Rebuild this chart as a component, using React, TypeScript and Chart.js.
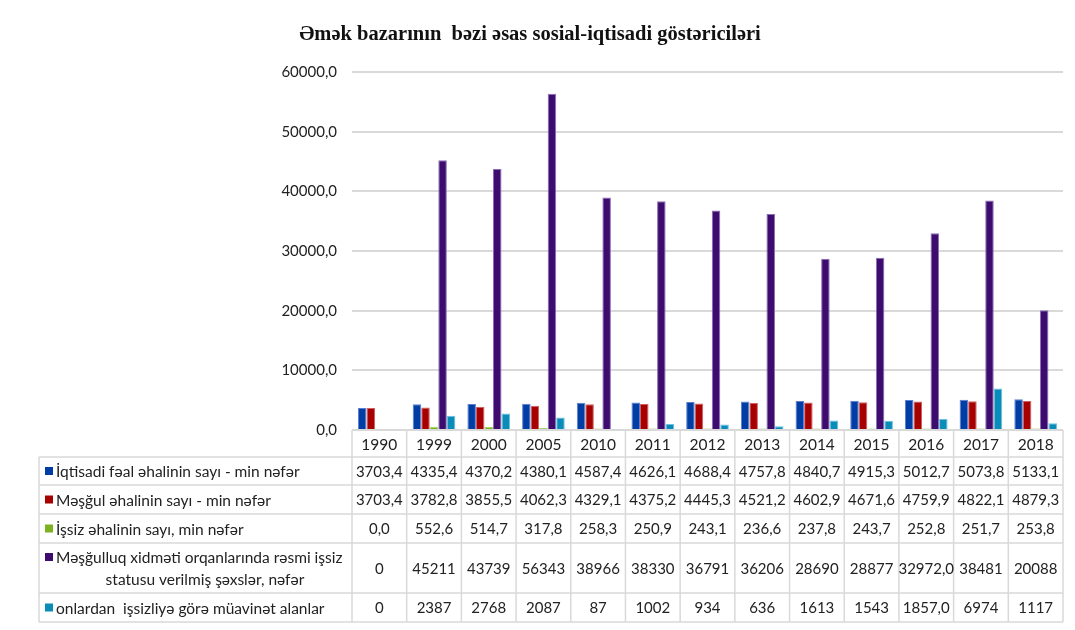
import React, { useEffect, useRef } from "react";
import { Chart, registerables } from "chart.js";

Chart.register(...registerables);

const TITLE = "Əmək bazarının  bəzi əsas sosial-iqtisadi göstəriciləri";

const years = ["1990", "1999", "2000", "2005", "2010", "2011", "2012", "2013", "2014", "2015", "2016", "2017", "2018"];

const seriesNames: string[][] = [
  ["İqtisadi fəal əhalinin sayı - min nəfər"],
  ["Məşğul əhalinin sayı - min nəfər"],
  ["İşsiz əhalinin sayı, min nəfər"],
  ["Məşğulluq xidməti orqanlarında rəsmi işsiz", "statusu verilmiş şəxslər, nəfər"],
  ["onlardan  işsizliyə görə müavinət alanlar"],
];

const activePopulation = ["3703,4", "4335,4", "4370,2", "4380,1", "4587,4", "4626,1", "4688,4", "4757,8", "4840,7", "4915,3", "5012,7", "5073,8", "5133,1"];
const employedPopulation = ["3703,4", "3782,8", "3855,5", "4062,3", "4329,1", "4375,2", "4445,3", "4521,2", "4602,9", "4671,6", "4759,9", "4822,1", "4879,3"];
const unemployedPopulation = ["0,0", "552,6", "514,7", "317,8", "258,3", "250,9", "243,1", "236,6", "237,8", "243,7", "252,8", "251,7", "253,8"];
const officialUnemployed = ["0", "45211", "43739", "56343", "38966", "38330", "36791", "36206", "28690", "28877", "32972,0", "38481", "20088"];
const benefitReceivers = ["0", "2387", "2768", "2087", "87", "1002", "934", "636", "1613", "1543", "1857,0", "6974", "1117"];

const seriesTexts = [activePopulation, employedPopulation, unemployedPopulation, officialUnemployed, benefitReceivers];

const colors = ["#003DA5", "#A60000", "#7DB21F", "#3D0C6E", "#0A8CB8"];
const borderColors = ["#5a7fd0", "#d06060", "#a9d36a", "#8a6fb8", "#6cc0e0"];

const yTicksMax = 60000;
const yTicksStep = 10000;

const toNum = (s: string) => parseFloat(s.replace(",", "."));

const FONT = "Lato, 'Noto Sans', sans-serif";
const TEXT = "#222222";
const LINE = "#d9d9d9";

const tablePlugin = {
  id: "dataTable",
  afterDraw(chart: any) {
    const ctx: CanvasRenderingContext2D = chart.ctx;
    const area = chart.chartArea;
    const n = years.length;
    const colW = (area.right - area.left) / n;
    const top = area.bottom;
    const rowH = [27, 28, 29, 29, 50, 29];
    const rowY: number[] = [top];
    rowH.forEach((h) => rowY.push(rowY[rowY.length - 1] + h));
    const legendLeft = 39;

    ctx.save();
    // title
    ctx.fillStyle = "#111";
    ctx.font = "bold 20.5px 'Liberation Serif', 'Times New Roman', serif";
    ctx.textAlign = "center";
    ctx.textBaseline = "middle";
    ctx.fillText(TITLE, 530, 35);

    // grid lines
    ctx.strokeStyle = LINE;
    ctx.lineWidth = 1.5;
    ctx.beginPath();
    ctx.moveTo(area.left, rowY[0]);
    ctx.lineTo(area.right, rowY[0]);
    for (let r = 1; r < rowY.length; r++) {
      ctx.moveTo(legendLeft, rowY[r]);
      ctx.lineTo(area.right, rowY[r]);
    }
    for (let c = 0; c <= n; c++) {
      const x = area.left + c * colW;
      ctx.moveTo(x, rowY[0]);
      ctx.lineTo(x, rowY[rowY.length - 1]);
    }
    ctx.moveTo(legendLeft, rowY[1]);
    ctx.lineTo(legendLeft, rowY[rowY.length - 1]);
    ctx.stroke();

    // header
    ctx.fillStyle = TEXT;
    ctx.font = `15.5px ${FONT}`;
    ctx.textAlign = "center";
    ctx.textBaseline = "middle";
    const xScale = chart.scales.x;
    years.forEach((y, i) => {
      const cx = xScale.getPixelForValue(i);
      ctx.fillText(y, cx, (rowY[0] + rowY[1]) / 2 + 1);
    });

    // rows
    seriesTexts.forEach((vals, s) => {
      const y0 = rowY[s + 1];
      const y1 = rowY[s + 2];
      const cy = (y0 + y1) / 2 + 1;
      ctx.fillStyle = TEXT;
      ctx.textAlign = "center";
      ctx.font = `15px ${FONT}`;
      vals.forEach((v, i) => {
        const cx = xScale.getPixelForValue(i);
        ctx.fillText(v, cx, cy);
      });
      ctx.font = `15.5px ${FONT}`;
      const lines = seriesNames[s];
      if (lines.length === 1) {
        ctx.fillStyle = colors[s];
        ctx.fillRect(45, cy - 5, 8, 8);
        ctx.fillStyle = TEXT;
        ctx.textAlign = "left";
        ctx.fillText(lines[0], 56, cy);
      } else {
        ctx.fillStyle = colors[s];
        ctx.fillRect(45, cy - 11 - 5, 8, 8);
        ctx.fillStyle = TEXT;
        ctx.textAlign = "left";
        ctx.fillText(lines[0], 56, cy - 11);
        ctx.textAlign = "center";
        ctx.fillText(lines[1], 205, cy + 11);
      }
    });
    ctx.restore();
  },
};

export default function App() {
  const ref = useRef<HTMLCanvasElement | null>(null);

  useEffect(() => {
    if (!ref.current) return;
    const chart = new Chart(ref.current, {
      type: "bar",
      data: {
        labels: years,
        datasets: seriesTexts.map((vals, s) => ({
          label: seriesNames[s].join(" "),
          data: vals.map(toNum),
          backgroundColor: colors[s],
          borderColor: borderColors[s],
          borderWidth: 1,
          barPercentage: 1,
          categoryPercentage: 0.78,
        })),
      },
      options: {
        animation: false,
        responsive: true,
        maintainAspectRatio: false,
        layout: { padding: { top: 72, left: 0, right: 12, bottom: 200 } },
        plugins: {
          legend: { display: false },
          title: { display: false },
          tooltip: { enabled: false },
        },
        scales: {
          x: {
            display: false,
          },
          y: {
            min: 0,
            max: yTicksMax,
            afterFit: (scale: any) => {
              scale.width = 352;
            },
            border: { display: false },
            grid: { color: LINE, lineWidth: 2, drawTicks: false },
            ticks: {
              stepSize: yTicksStep,
              padding: 15,
              color: TEXT,
              font: { family: FONT, size: 15 },
              callback: (v: any) => Number(v).toFixed(1).replace(".", ","),
            },
          },
        },
      },
      plugins: [tablePlugin],
    });
    return () => chart.destroy();
  }, []);

  return (
    <div style={{ position: "absolute", left: 0, top: 0, width: 1075, height: 630, background: "#fff" }}>
      <canvas ref={ref} />
    </div>
  );
}
